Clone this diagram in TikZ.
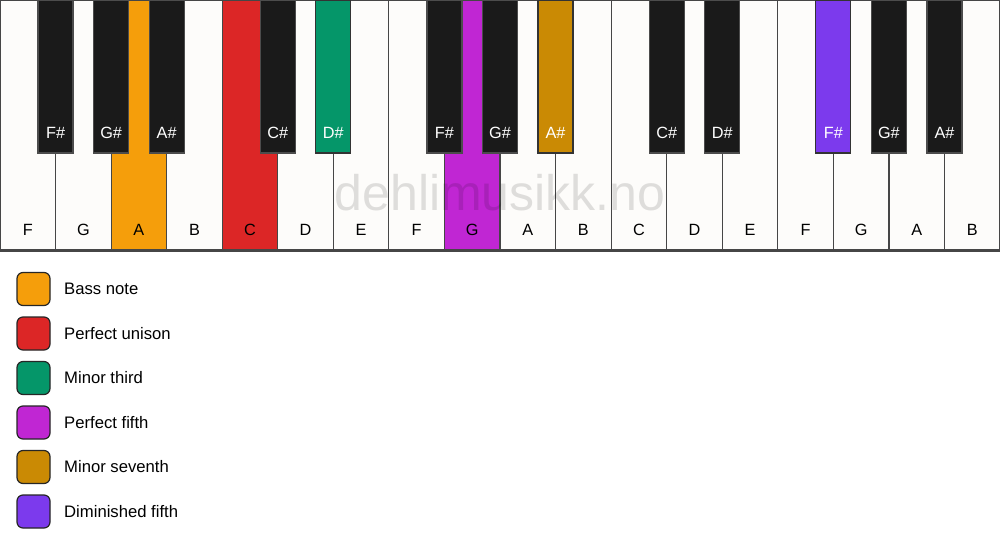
\documentclass[tikz,border=0pt]{standalone}
\usepackage{fontspec}
\setmainfont{Liberation Sans}
\usetikzlibrary{positioning}

\definecolor{keywhite}{RGB}{253,252,250}
\definecolor{keyblack}{RGB}{26,26,26}
\definecolor{edgegray}{RGB}{70,70,70}
\definecolor{bass}{RGB}{245,158,11}
\definecolor{unison}{RGB}{220,38,38}
\definecolor{third}{RGB}{5,150,105}
\definecolor{fifth}{RGB}{192,38,211}
\definecolor{seventh}{RGB}{202,138,4}
\definecolor{dimfifth}{RGB}{124,58,237}

\tikzstyle{key}=[rectangle,draw=edgegray,line width=0.9pt,inner sep=0pt]
\tikzstyle{white key}=[key,fill=keywhite,minimum width=41.67pt,minimum height=187.5pt]
\tikzstyle{black key}=[key,fill=keyblack,draw=black!70,minimum width=26.25pt,minimum height=114.75pt]
\tikzstyle{white name}=[font=\fontsize{12.2}{14}\selectfont,text=black,inner sep=0pt]
\tikzstyle{black name}=[white name,text=white]
\tikzstyle{swatch}=[rectangle,draw=black!85,line width=0.9pt,rounded corners=4.5pt,minimum size=24.75pt,inner sep=0pt]
\tikzstyle{legend text}=[font=\fontsize{12.5}{14}\selectfont,inner sep=0pt]

\begin{document}
\begin{tikzpicture}[x=0.75pt,y=-0.75pt]
    \useasboundingbox[fill=white] (0,0) rectangle (1000,550);
    % Draw the white keys
    \foreach \i/\name in {0/F,1/G,2/A,3/B,4/C,5/D,6/E,7/F,8/G,9/A,10/B,11/C,12/D,13/E,14/F,15/G,16/A,17/B}
    \node[white key] (W\i) at ({55.556*\i+27.778},125) {};
    % Marked white keys
    \foreach \i/\col in {2/bass,4/unison,8/fifth}
    \node[white key,fill=\col] (W\i) at ({55.556*\i+27.778},125) {};
    \draw[edgegray,line width=2pt] (W0.south west) -- (W17.south east);
    % Watermark
    \node[font=\fontsize{37.5}{42}\selectfont,text=black,text opacity=0.12] (mark) at (500,193) {dehlimusikk.no};
    % Names of the white keys
    \foreach \i/\name in {0/F,1/G,2/A,3/B,4/C,5/D,6/E,7/F,8/G,9/A,10/B,11/C,12/D,13/E,14/F,15/G,16/A,17/B}
    \node[white name] (W\i name) at ({55.556*\i+27.778},230) {\name};
    % Then the black keys
    \foreach \i/\name in {1/F\#,2/G\#,3/A\#,5/C\#,6/D\#,8/F\#,9/G\#,10/A\#,12/C\#,13/D\#,15/F\#,16/G\#,17/A\#}
    \node[black key] (B\i) at ({55.556*\i},76.5) {};
    \foreach \i/\col in {6/third,10/seventh,15/dimfifth}
    \node[black key,fill=\col,draw=black!80] (B\i) at ({55.556*\i},76.5) {};
    \foreach \i/\name in {1/F\#,2/G\#,3/A\#,5/C\#,6/D\#,8/F\#,9/G\#,10/A\#,12/C\#,13/D\#,15/F\#,16/G\#,17/A\#}
    \node[black name] (B\i name) at ({55.556*\i},133) {\name};
    % Legend
    \foreach \k/\col/\txt in {0/bass/Bass note,1/unison/Perfect unison,2/third/Minor third,
        3/fifth/Perfect fifth,4/seventh/Minor seventh,5/dimfifth/Diminished fifth}
    {
    \node[swatch,fill=\col] (S\k) at (33.5,{289+44.5*\k}) {};
    \node[legend text,right=10pt of S\k] (L\k) {\txt};
    }
\end{tikzpicture}
\end{document}
